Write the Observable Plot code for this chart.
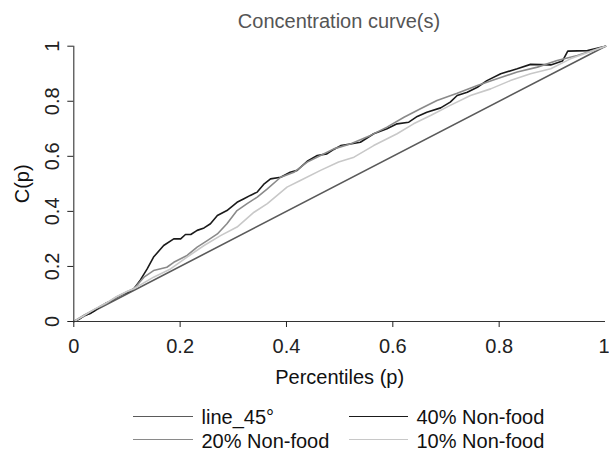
<!DOCTYPE html>
<html><head><meta charset="utf-8">
<script src="https://cdn.jsdelivr.net/npm/d3@7"></script>
<script src="https://cdn.jsdelivr.net/npm/@observablehq/plot@0.6"></script>
<style>
body{margin:0;background:#fff;font-family:"Liberation Sans",Arial,sans-serif;}
#wrap{position:relative;width:609px;height:450px;overflow:hidden;}
#title{position:absolute;left:73px;width:532px;top:11px;text-align:center;font-size:20px;line-height:20px;color:#555;}
#chart{position:absolute;left:0;top:32px;}
.leg{position:absolute;font-size:20px;line-height:20px;color:#111;white-space:nowrap;}
.sw{position:absolute;height:0;border-top:1.5px solid;}
</style></head><body>
<div id="wrap">
<div id="title"></div>
<div id="chart"></div>
<div id="legend"></div>
</div>
<script>
const titleText = "Concentration curve(s)";
const xLabel = "Percentiles (p)";
const yLabel = "C(p)";
const xTicks = [0, 0.2, 0.4, 0.6, 0.8, 1];
const xTickLabels = ["0", "0.2", "0.4", "0.6", "0.8", "1"];
const yTicks = [0, 0.2, 0.4, 0.6, 0.8, 1];
const yTickLabels = ["0", "0.2", "0.4", "0.6", "0.8", "1"];

const seriesNames = ["line_45°", "40% Non-food", "20% Non-food", "10% Non-food"];
const seriesColors = ["#5a5a5a", "#1a1a1a", "#8a8a8a", "#c8c8c8"];

const line45P = [0, 1];
const line45C = [0, 1];

const nonfood40P = [0, 0.01, 0.02, 0.03, 0.04, 0.05, 0.06, 0.07, 0.08, 0.09, 0.10, 0.113, 0.125, 0.138, 0.150, 0.169, 0.188, 0.201, 0.210, 0.220, 0.232, 0.245, 0.257, 0.270, 0.288, 0.307, 0.320, 0.332, 0.345, 0.357, 0.370, 0.389, 0.407, 0.420, 0.439, 0.458, 0.476, 0.489, 0.502, 0.520, 0.539, 0.564, 0.589, 0.608, 0.630, 0.646, 0.664, 0.690, 0.708, 0.721, 0.740, 0.759, 0.777, 0.803, 0.834, 0.859, 0.897, 0.919, 0.929, 0.966, 1];
const nonfood40C = [0, 0.008, 0.022, 0.028, 0.040, 0.055, 0.066, 0.075, 0.087, 0.097, 0.105, 0.119, 0.150, 0.191, 0.234, 0.276, 0.300, 0.300, 0.316, 0.316, 0.331, 0.340, 0.355, 0.385, 0.403, 0.433, 0.446, 0.458, 0.470, 0.498, 0.518, 0.524, 0.542, 0.549, 0.582, 0.603, 0.609, 0.625, 0.639, 0.645, 0.651, 0.682, 0.700, 0.718, 0.724, 0.745, 0.760, 0.776, 0.797, 0.821, 0.833, 0.851, 0.875, 0.900, 0.918, 0.934, 0.932, 0.946, 0.982, 0.984, 1];

const nonfood20P = [0, 0.02, 0.04, 0.06, 0.08, 0.10, 0.113, 0.132, 0.150, 0.175, 0.188, 0.213, 0.232, 0.251, 0.270, 0.288, 0.307, 0.326, 0.345, 0.364, 0.389, 0.414, 0.439, 0.464, 0.489, 0.520, 0.558, 0.589, 0.621, 0.652, 0.683, 0.721, 0.759, 0.796, 0.834, 0.872, 0.909, 0.947, 1];
const nonfood20C = [0, 0.024, 0.045, 0.064, 0.088, 0.108, 0.119, 0.161, 0.185, 0.197, 0.215, 0.240, 0.270, 0.294, 0.318, 0.355, 0.403, 0.428, 0.452, 0.482, 0.524, 0.542, 0.579, 0.603, 0.627, 0.645, 0.676, 0.706, 0.742, 0.773, 0.803, 0.829, 0.857, 0.882, 0.906, 0.924, 0.948, 0.966, 1];

const nonfood10P = [0, 0.02, 0.04, 0.06, 0.08, 0.10, 0.113, 0.150, 0.182, 0.213, 0.245, 0.276, 0.307, 0.339, 0.364, 0.401, 0.426, 0.464, 0.498, 0.527, 0.564, 0.608, 0.639, 0.671, 0.708, 0.746, 0.784, 0.821, 0.859, 0.897, 0.934, 1];
const nonfood10C = [0, 0.022, 0.046, 0.066, 0.090, 0.109, 0.119, 0.161, 0.191, 0.234, 0.276, 0.312, 0.343, 0.397, 0.428, 0.488, 0.512, 0.549, 0.579, 0.597, 0.639, 0.682, 0.718, 0.748, 0.785, 0.821, 0.845, 0.875, 0.900, 0.918, 0.954, 1];

const seriesP = [line45P, nonfood40P, nonfood20P, nonfood10P];
const seriesC = [line45C, nonfood40C, nonfood20C, nonfood10C];

document.getElementById("title").textContent = titleText;

const lineMarks = seriesP.map((ps, s) =>
  Plot.line(ps.map((p, i) => ({p, c: seriesC[s][i]})), {
    x: "p", y: "c", stroke: seriesColors[s], strokeWidth: 1.6
  })
);

const fmtX = d => xTickLabels[xTicks.indexOf(d)];
const chart = Plot.plot({
  width: 609,
  height: 368,
  marginTop: 13.7,
  marginBottom: 79,
  marginLeft: 73.3,
  marginRight: 4,
  style: {fontFamily: "'Liberation Sans', Arial, sans-serif", fontSize: "20px", background: "white", overflow: "visible"},
  x: {domain: [0, 1]},
  y: {domain: [0, 1]},
  marks: [
    ...lineMarks,
    Plot.ruleY([0], {stroke: "#333", strokeWidth: 1.1}),
    Plot.ruleX([0], {stroke: "#333", strokeWidth: 1.1}),
    Plot.axisX({ticks: xTicks.slice(0, -1), tickSize: 6, tickPadding: 11, label: null, color: "#222", tickFormat: fmtX}),
    Plot.axisX({ticks: xTicks.slice(-1), tickSize: 6, tickPadding: 11, label: null, color: "#222", tickFormat: fmtX, textAnchor: "end", dx: 4}),
    Plot.axisY({ticks: yTicks, tickSize: 6, tickPadding: 9, tickRotate: -90, label: null, color: "#222",
      tickFormat: d => yTickLabels[yTicks.indexOf(d)]}),
    Plot.text([xLabel], {text: d => d, frameAnchor: "bottom", dy: 55.6, lineAnchor: "middle", fill: "#111"}),
    Plot.text([yLabel], {text: d => d, frameAnchor: "left", dx: -51.7, rotate: -90, lineAnchor: "middle", textAnchor: "middle", fill: "#111"})
  ]
});
document.getElementById("chart").appendChild(chart);

// legend (HTML, below the SVG)
const legendPos = [
  {lineX: 133, lineW: 60, textX: 201.5, lineY: 417, top: 407},
  {lineX: 349, lineW: 59, textX: 416.5, lineY: 417, top: 407},
  {lineX: 133, lineW: 60, textX: 201.5, lineY: 440, top: 430.5},
  {lineX: 349, lineW: 59, textX: 416.5, lineY: 440, top: 430.5}
];
const legendOrder = [0, 1, 2, 3];
const legend = document.getElementById("legend");
legendOrder.forEach((s, k) => {
  const pos = legendPos[k];
  const sw = document.createElement("div");
  sw.className = "sw";
  sw.style.left = pos.lineX + "px";
  sw.style.width = pos.lineW + "px";
  sw.style.top = (pos.lineY - 0.75) + "px";
  sw.style.borderTopColor = seriesColors[s];
  legend.appendChild(sw);
  const t = document.createElement("div");
  t.className = "leg";
  t.style.left = pos.textX + "px";
  t.style.top = pos.top + "px";
  t.textContent = seriesNames[s];
  legend.appendChild(t);
});
</script>
</body></html>
